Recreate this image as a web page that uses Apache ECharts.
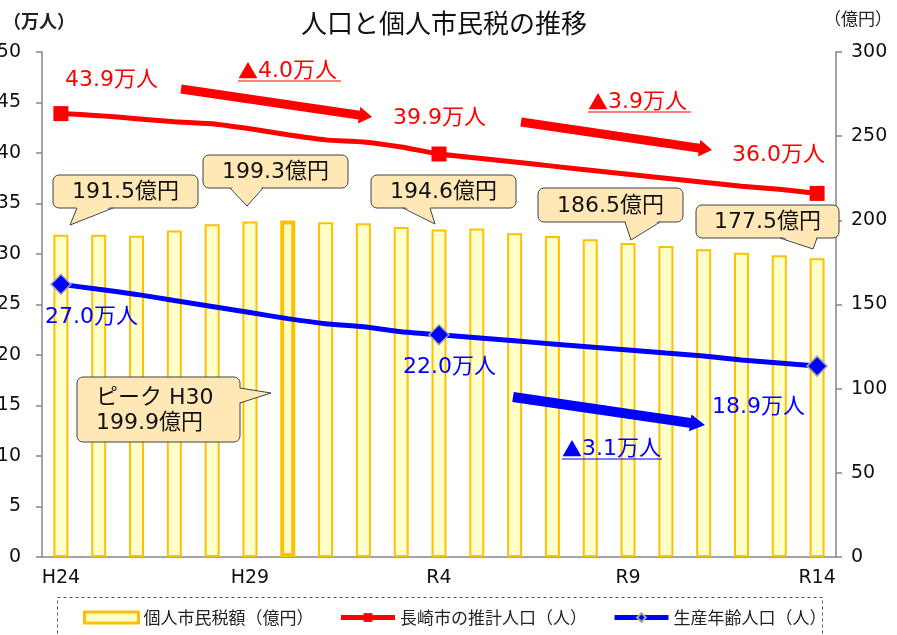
<!DOCTYPE html>
<html><head><meta charset="utf-8">
<script src="https://cdn.jsdelivr.net/npm/echarts@6/dist/echarts.min.js"></script>
<style>html,body{margin:0;padding:0;background:#fff}#c{width:897px;height:635px}</style>
</head><body><div id="c"></div>
<script>
// ---- data ----
const categories = ['H24','H25','H26','H27','H28','H29','H30','R1','R2','R3','R4','R5','R6','R7','R8','R9','R10','R11','R12','R13','R14'];
const taxValues = [191.5,191.5,190.9,193.9,197.7,199.3,199.9,198.8,198.2,196.1,194.6,195.1,192.3,190.7,188.7,186.5,184.8,182.8,180.8,179.2,177.5];
const populationValues = [43.9,43.7,43.4,43.1,42.9,42.4,41.8,41.3,41.1,40.6,39.9,39.5,39.1,38.7,38.3,37.9,37.5,37.1,36.7,36.4,36.0];
const workingAgeValues = [27.0,26.5,26.0,25.4,24.8,24.2,23.6,23.1,22.8,22.3,22.0,21.7,21.4,21.1,20.8,20.5,20.2,19.9,19.5,19.2,18.9];
const markedIndices = [0,10,20];
const peakIndex = 6;
const leftAxisRange = [0,50,5];
const rightAxisRange = [0,300,50];
const seriesNames = ['個人市民税額（億円）','長崎市の推計人口（人）','生産年齢人口（人）'];

const FONT = "'DejaVu Sans','Noto Sans CJK JP',sans-serif";
const JP = "'Noto Sans CJK JP','DejaVu Sans',sans-serif";
const RED = '#FF0000', BLUE = '#0000FF', AXIS = '#868686';

const chart = echarts.init(document.getElementById('c'));

function arrow(x1,y1,x2,y2,w,hl,hw,color){
  const dx=x2-x1, dy=y2-y1, L=Math.sqrt(dx*dx+dy*dy), ux=dx/L, uy=dy/L, nx=-uy, ny=ux;
  const bx=x2-ux*hl, by=y2-uy*hl;
  return {type:'polygon', z:50, shape:{points:[
    [x1+nx*w/2,y1+ny*w/2],[bx+nx*w/2,by+ny*w/2],[bx+nx*hw/2,by+ny*hw/2],[x2,y2],
    [bx-nx*hw/2,by-ny*hw/2],[bx-nx*w/2,by-ny*w/2],[x1-nx*w/2,y1-ny*w/2]]},
    style:{fill:color}};
}
const CFILL = '#FFE8B6', CSTROKE = '#404040';
function callout(x,y,w,h,wedge,text,tx){
  const els = [];
  els.push({type:'rect', z:60, shape:{x:x,y:y,width:w,height:h,r:6}, style:{fill:CFILL,stroke:CSTROKE,lineWidth:1}});
  const [p1,tip,p2,inv] = wedge;
  els.push({type:'polygon', z:61, shape:{points:[[p1[0]+inv[0],p1[1]+inv[1]],tip,[p2[0]+inv[0],p2[1]+inv[1]]]}, style:{fill:CFILL}});
  els.push({type:'polyline', z:62, shape:{points:[p1,tip,p2]}, style:{stroke:CSTROKE,lineWidth:1,fill:null}});
  if (Array.isArray(text)) {
    text.forEach((t,i)=>els.push({type:'text', z:63, style:{x:tx, y:y+21+i*25, text:t, fill:'#111', font:'22px '+FONT, textAlign:'left', textVerticalAlign:'middle'}}));
  } else {
    els.push({type:'text', z:63, style:{x:x+w/2, y:y+h/2+1, text:text, fill:'#111', font:'22px '+FONT, textAlign:'center', textVerticalAlign:'middle'}});
  }
  return els;
}
function label(x,y,text,color){
  return {type:'text', z:55, style:{x:x,y:y,text:text,fill:color,font:'22px '+FONT,textAlign:'left',textVerticalAlign:'middle'}};
}
function triLabel(x,y,text,color){
  return {type:'text', z:55, style:{x:x,y:y,text:'{t|▲}{n|'+text+'}',fill:color,textAlign:'left',textVerticalAlign:'middle',
    rich:{t:{fontFamily:JP,fontSize:20,color:color}, n:{fontFamily:FONT,fontSize:22,color:color}}}};
}
function uline(x1,x2,y,color){
  return {type:'line', z:55, shape:{x1:x1,y1:y,x2:x2,y2:y}, style:{stroke:color,lineWidth:1.2}};
}

const graphics = [].concat(
  [{type:'text', style:{x:3,y:21,text:'（万人）',fill:'#222',font:'bold 18px '+JP,textVerticalAlign:'middle'}},
   {type:'text', style:{x:824,y:19,text:'（億円）',fill:'#222',font:'17px '+JP,textVerticalAlign:'middle'}},
   {type:'rect', z:1, shape:{x:57.5,y:597.5,width:765,height:60}, style:{fill:null,stroke:'#555',lineWidth:1,lineDash:[3,3]}}],
  callout(53,175,145,33,[[77,208],[70,225],[113,208],[0,-2]],'191.5億円'),
  callout(203,155,145,33,[[230,188],[247,206],[263,188],[0,-2]],'199.3億円'),
  callout(371,175,145,33,[[403,208],[435,224],[430,208],[0,-2]],'194.6億円'),
  callout(538,188,145,34,[[625,222],[631,240],[660,222],[0,-2]],'186.5億円'),
  callout(696,205,143,33,[[780,238],[813,249],[817,238],[0,-2]],'177.5億円'),
  callout(77,377,163,65,[[240,388],[271,393],[240,403],[-2,0]],['ピーク H30','199.9億円'],96),
  [arrow(181,89,372,117,9,13,17,RED),
   arrow(521,122,712,150,9,13,17,RED),
   arrow(513,397,705,425,10,15,17,BLUE),
   label(65,80,'43.9万人',RED),
   triLabel(238,71,'4.0万人',RED), uline(238,341,81,RED),
   label(393,118,'39.9万人',RED),
   triLabel(588,102,'3.9万人',RED), uline(588,691,112,RED),
   label(732,155,'36.0万人',RED),
   label(45,317,'27.0万人',BLUE),
   label(403,367,'22.0万人',BLUE),
   label(712,407,'18.9万人',BLUE),
   triLabel(562,449,'3.1万人',BLUE), uline(562,662,459,BLUE)]
);

function markedData(vals){
  return vals.map((v,i)=> markedIndices.includes(i) ? v : {value:v, symbol:'none'});
}

const option = {
  backgroundColor:'#fff',
  animation:false,
  title:{text:'人口と個人市民税の推移', left:296, top:5, textStyle:{fontSize:26, fontWeight:'normal', color:'#111', fontFamily:JP}},
  grid:{left:42, right:61, top:52, bottom:78, containLabel:false, outerBoundsMode:'none'},
  legend:{
    left:78, top:604, itemGap:25, itemWidth:54, itemHeight:11, padding:5,
    textStyle:{fontSize:17, fontFamily:JP, color:'#222'},
    data:[
      {name:seriesNames[0], icon:'rect', itemStyle:{color:'#FFFFCC', borderColor:'#FFC000', borderWidth:3}},
      {name:seriesNames[1], lineStyle:{width:5, color:RED}},
      {name:seriesNames[2], lineStyle:{width:5, color:BLUE}}
    ]
  },
  xAxis:{
    type:'category', data:categories, boundaryGap:true,
    axisLine:{lineStyle:{color:AXIS, width:1.5}},
    axisTick:{interval:0, length:6, lineStyle:{color:AXIS, width:1.5}},
    axisLabel:{interval:4, margin:12, fontSize:19, fontFamily:FONT, color:'#111'}
  },
  yAxis:[
    {type:'value', min:leftAxisRange[0], max:leftAxisRange[1], interval:leftAxisRange[2],
     axisLine:{show:true, lineStyle:{color:AXIS, width:1.5}},
     axisTick:{show:true, length:6, lineStyle:{color:AXIS, width:1.5}},
     splitLine:{show:false},
     axisLabel:{margin:21, fontSize:19, fontFamily:FONT, color:'#111'}},
    {type:'value', min:rightAxisRange[0], max:rightAxisRange[1], interval:rightAxisRange[2], position:'right',
     axisLine:{show:true, lineStyle:{color:AXIS, width:1.5}},
     axisTick:{show:true, length:6, lineStyle:{color:AXIS, width:1.5}},
     splitLine:{show:false},
     axisLabel:{margin:15, fontSize:19, fontFamily:FONT, color:'#111'}}
  ],
  series:[
    {name:seriesNames[0], type:'bar', yAxisIndex:1, barWidth:15, z:2,
     itemStyle:{color:'#FFFFCC', borderColor:'#FFC000', borderWidth:2},
     data:taxValues.map((v,i)=> i===peakIndex ? {value:v, itemStyle:{borderWidth:4}} : v)},
    {name:seriesNames[1], type:'line', yAxisIndex:0, z:5, smooth:0.15,
     symbol:'rect', symbolSize:15, showAllSymbol:true,
     lineStyle:{color:RED, width:5}, itemStyle:{color:RED},
     data:markedData(populationValues)},
    {name:seriesNames[2], type:'line', yAxisIndex:0, z:5, smooth:0.15,
     symbol:'diamond', symbolSize:20, showAllSymbol:true,
     lineStyle:{color:BLUE, width:5}, itemStyle:{color:BLUE, borderColor:'#A6A6A6', borderWidth:1.5},
     data:markedData(workingAgeValues)}
  ],
  graphic:graphics
};
chart.setOption(option);
</script></body></html>
